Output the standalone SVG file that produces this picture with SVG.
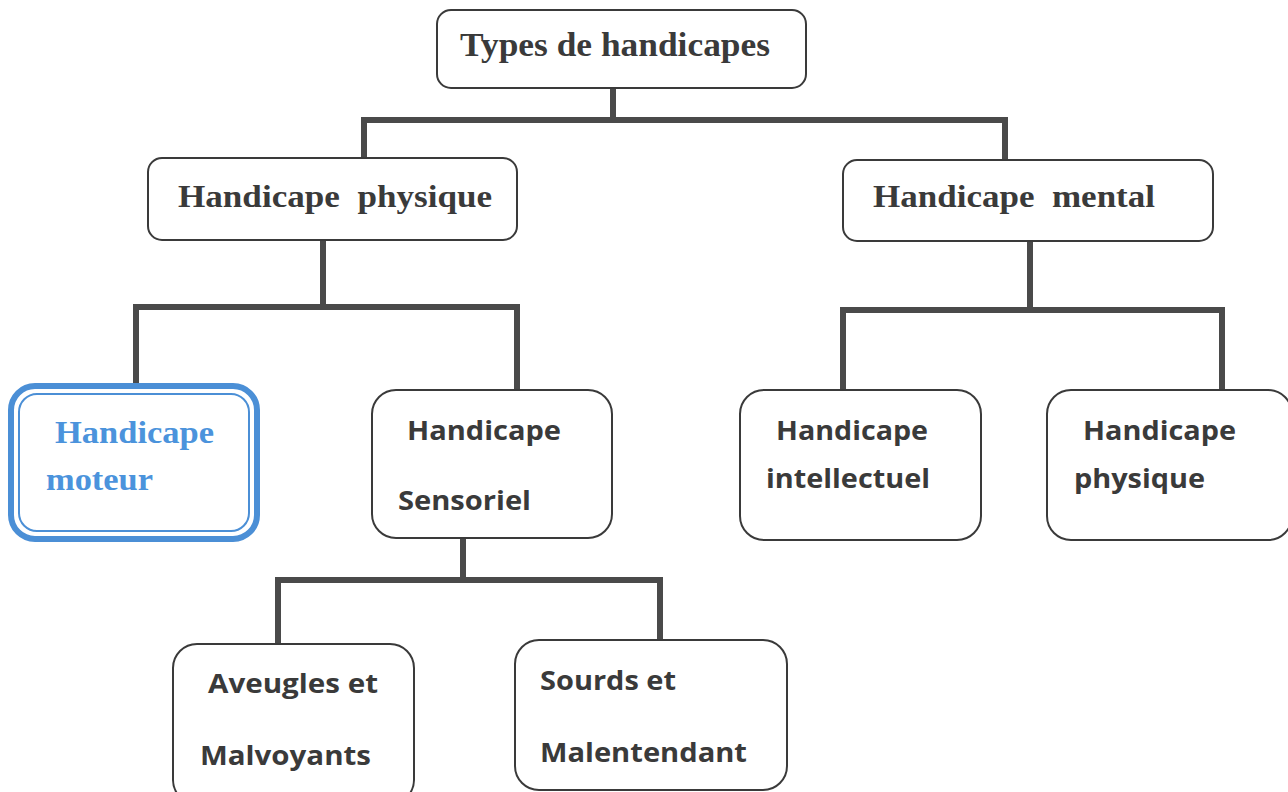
<svg xmlns="http://www.w3.org/2000/svg" width="1288" height="792" viewBox="0 0 1288 792">
<style>
.box{fill:#fff;stroke:#3a3a3a;stroke-width:2}
.conn{fill:none;stroke:#4a4a4a;stroke-width:6;stroke-linecap:square}
.serif{font-family:"Liberation Serif","Times New Roman",serif;font-weight:bold;fill:#3a3a3a}
.sans{font-family:"Open Sans","Liberation Sans",sans-serif;font-weight:bold;fill:#3a3a3a;font-size:27px}
.blue{fill:#4b93dc}
</style>
<rect width="1288" height="792" fill="#fff"/>
<g id="connectors">
<path class="conn" d="M613,88 V120 M364,160 V120 H1005 V160"/>
<path class="conn" d="M323,240 V307 M136,384 V307 H517 V390"/>
<path class="conn" d="M1030,241 V310 M843,390 V310 H1222 V390"/>
<path class="conn" d="M463,538 V580 M278,644 V580 H660 V640"/>
</g>
<g id="n-types">
<rect class="box" x="437" y="10" width="369" height="78" rx="14"/>
<text class="serif" x="460" y="56" font-size="34" textLength="310" lengthAdjust="spacingAndGlyphs">Types de handicapes</text>
</g>
<g id="n-physique">
<rect class="box" x="148" y="158" width="369" height="82" rx="14"/>
<text class="serif" x="178" y="207" font-size="31" textLength="314" lengthAdjust="spacingAndGlyphs" xml:space="preserve">Handicape  physique</text>
</g>
<g id="n-mental">
<rect class="box" x="843" y="160" width="370" height="81" rx="14"/>
<text class="serif" x="873" y="207" font-size="31" textLength="282" lengthAdjust="spacingAndGlyphs" xml:space="preserve">Handicape  mental</text>
</g>
<g id="n-moteur">
<rect x="11" y="386" width="246" height="153" rx="24" fill="#fff" stroke="#4b8fd6" stroke-width="6"/>
<rect x="19" y="394" width="230" height="137" rx="18" fill="none" stroke="#4b8fd6" stroke-width="2"/>
<text class="serif blue" x="55" y="443" font-size="31" textLength="159" lengthAdjust="spacingAndGlyphs">Handicape</text>
<text class="serif blue" x="46" y="490" font-size="31" textLength="107" lengthAdjust="spacingAndGlyphs">moteur</text>
</g>
<g id="n-sensoriel">
<rect class="box" x="372" y="390" width="240" height="148" rx="24"/>
<text class="sans" x="407" y="440" textLength="154" lengthAdjust="spacingAndGlyphs">Handicape</text>
<text class="sans" x="398" y="510" textLength="133" lengthAdjust="spacingAndGlyphs">Sensoriel</text>
</g>
<g id="n-intellectuel">
<rect class="box" x="740" y="390" width="241" height="150" rx="24"/>
<text class="sans" x="776" y="440" textLength="152" lengthAdjust="spacingAndGlyphs">Handicape</text>
<text class="sans" x="766" y="488" textLength="164" lengthAdjust="spacingAndGlyphs">intellectuel</text>
</g>
<g id="n-physique2">
<rect class="box" x="1047" y="390" width="245" height="150" rx="24"/>
<text class="sans" x="1083" y="440" textLength="153" lengthAdjust="spacingAndGlyphs">Handicape</text>
<text class="sans" x="1074" y="488" textLength="131" lengthAdjust="spacingAndGlyphs">physique</text>
</g>
<g id="n-aveugles">
<rect class="box" x="173" y="644" width="241" height="160" rx="24"/>
<text class="sans" x="208" y="693" textLength="170" lengthAdjust="spacingAndGlyphs">Aveugles et</text>
<text class="sans" x="200" y="765" textLength="171" lengthAdjust="spacingAndGlyphs">Malvoyants</text>
</g>
<g id="n-sourds">
<rect class="box" x="515" y="640" width="272" height="150" rx="24"/>
<text class="sans" x="540" y="690" textLength="136" lengthAdjust="spacingAndGlyphs">Sourds et</text>
<text class="sans" x="540" y="762" textLength="207" lengthAdjust="spacingAndGlyphs">Malentendant</text>
</g>
</svg>
